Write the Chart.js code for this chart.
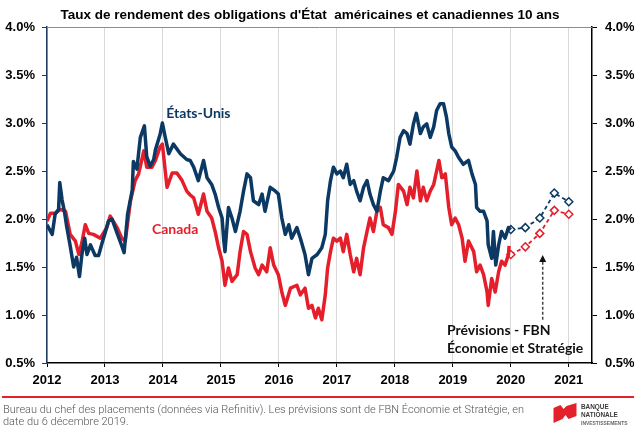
<!DOCTYPE html>
<html><head><meta charset="utf-8">
<script src="https://cdn.jsdelivr.net/npm/chart.js@4.4.1/dist/chart.umd.min.js"></script>
<style>
html,body{margin:0;padding:0;background:#fff;}
#wrap{position:relative;width:634px;height:431px;overflow:hidden;background:#fff;}
#c{position:absolute;left:0;top:0;}
#rule{position:absolute;left:2px;top:396px;width:632px;height:2px;background:#e3212b;}
#foot{position:absolute;left:3px;top:404px;font-family:Roboto,"Liberation Sans",sans-serif;font-weight:300;font-size:11px;color:#555;line-height:11.5px;white-space:nowrap;}
#logo{position:absolute;left:553px;top:402px;width:81px;height:28px;}
#logo .t{position:absolute;left:28px;font-family:"Liberation Sans",Arial,sans-serif;font-weight:bold;color:#3a3a3a;white-space:nowrap;transform-origin:0 0;}
</style></head>
<body>
<div id="wrap">
<canvas id="c" width="634" height="398"></canvas>
<div id="rule"></div>
<div id="foot"></div>
<div id="logo">
<svg width="25" height="22" viewBox="0 0 24 22" style="position:absolute;left:0;top:1px">
<path d="M0 5 L7 2 L10 6 L13 3 L23 0 L23 13 L15 16 L12 12 L9 16 L0 20 Z" fill="#e3212b"/>
</svg>
<div class="t" id="lg1" style="top:0px;font-size:8px;transform:scaleX(0.8)"></div>
<div class="t" id="lg2" style="top:8px;font-size:8px;transform:scaleX(0.8)"></div>
<div class="t" id="lg3" style="top:18px;font-size:5.5px;color:#666;transform:scaleX(0.9)"></div>
</div>
</div>
<script>
// ---------- Data ----------
const TITLE = "Taux de rendement des obligations d'État  américaines et canadiennes 10 ans";
const US_NAME = "États-Unis";
const CA_NAME = "Canada";
const NOTE_LINES = ["Prévisions - FBN", "Économie et Stratégie"];
const FOOT_LINES = ["Bureau du chef des placements (données via Refinitiv). Les prévisions sont de FBN Économie et Stratégie, en", "date du 6 décembre 2019."];
const LOGO_LINES = ["BANQUE", "NATIONALE", "INVESTISSEMENTS"];

const yearTicks = [2012, 2013, 2014, 2015, 2016, 2017, 2018, 2019, 2020, 2021];

const usDates = [2012.00,2012.09,2012.14,2012.20,2012.22,2012.26,2012.30,2012.34,2012.40,2012.46,2012.51,2012.56,2012.60,2012.65,2012.69,2012.75,2012.83,2012.89,2012.95,
2013.00,2013.06,2013.12,2013.21,2013.29,2013.33,2013.39,2013.47,2013.49,2013.55,2013.61,2013.68,2013.72,2013.78,2013.84,2013.87,2013.95,2013.99,
2014.04,2014.10,2014.18,2014.30,2014.41,2014.47,2014.53,2014.61,2014.70,2014.76,2014.84,2014.90,2014.96,
2015.02,2015.05,2015.07,2015.13,2015.19,2015.25,2015.33,2015.39,2015.45,2015.51,2015.56,2015.65,2015.71,2015.76,2015.85,2015.94,2015.99,
2016.05,2016.11,2016.17,2016.22,2016.31,2016.37,2016.45,2016.51,2016.57,2016.66,2016.74,2016.80,2016.84,2016.89,2016.94,
2017.00,2017.06,2017.11,2017.17,2017.23,2017.29,2017.34,2017.40,2017.46,2017.52,2017.57,2017.63,2017.69,2017.75,2017.80,2017.89,2017.98,
2018.03,2018.09,2018.15,2018.21,2018.26,2018.32,2018.37,2018.44,2018.49,2018.55,2018.61,2018.67,2018.72,2018.78,2018.84,2018.89,2018.93,2018.98,
2019.04,2019.10,2019.18,2019.27,2019.33,2019.39,2019.41,2019.47,2019.53,2019.59,2019.61,2019.67,2019.70,2019.74,2019.79,2019.84,2019.90,2019.96,2020.00];
const usValues = [1.94,1.84,2.05,2.10,2.38,2.20,2.08,1.92,1.72,1.50,1.60,1.40,1.62,1.80,1.63,1.73,1.62,1.62,1.75,
1.85,1.98,2.00,1.85,1.72,1.65,2.05,2.30,2.60,2.52,2.85,2.97,2.65,2.55,2.62,2.72,2.88,3.00,
2.85,2.68,2.78,2.68,2.62,2.61,2.54,2.40,2.61,2.43,2.36,2.26,2.12,
2.01,1.77,1.66,2.12,2.01,1.87,2.08,2.29,2.47,2.43,2.19,2.15,2.26,2.08,2.33,2.29,2.26,
2.01,1.84,1.94,1.80,1.91,1.80,1.63,1.42,1.59,1.63,1.70,1.84,2.19,2.40,2.54,
2.47,2.50,2.43,2.57,2.36,2.40,2.29,2.19,2.33,2.40,2.26,2.15,2.08,2.29,2.43,2.40,2.50,
2.64,2.85,2.92,2.89,2.78,2.99,3.10,2.89,2.96,2.99,2.85,2.96,3.13,3.20,3.20,3.06,2.89,2.75,
2.71,2.64,2.57,2.61,2.47,2.36,2.12,2.08,2.08,1.98,1.73,1.59,1.87,1.52,1.73,1.87,1.80,1.91,1.89];

const caDates = [2012.00,2012.06,2012.14,2012.23,2012.32,2012.40,2012.49,2012.55,2012.60,2012.66,2012.72,2012.80,2012.92,
2013.03,2013.09,2013.21,2013.29,2013.35,2013.44,2013.52,2013.58,2013.67,2013.72,2013.81,2013.87,2013.95,2013.99,
2014.07,2014.16,2014.24,2014.33,2014.41,2014.47,2014.53,2014.61,2014.70,2014.76,2014.84,2014.90,2014.96,
2015.02,2015.07,2015.13,2015.19,2015.28,2015.33,2015.39,2015.45,2015.51,2015.59,2015.65,2015.71,2015.79,2015.85,2015.91,2015.99,
2016.05,2016.11,2016.20,2016.31,2016.37,2016.45,2016.51,2016.57,2016.63,2016.68,2016.74,2016.80,2016.84,2016.89,2016.94,
2017.00,2017.06,2017.11,2017.17,2017.23,2017.29,2017.34,2017.40,2017.46,2017.52,2017.57,2017.63,2017.69,2017.75,2017.80,2017.89,2017.95,
2018.01,2018.06,2018.15,2018.21,2018.26,2018.32,2018.38,2018.44,2018.49,2018.55,2018.61,2018.67,2018.72,2018.76,2018.81,2018.87,2018.93,2018.98,
2019.04,2019.10,2019.16,2019.21,2019.27,2019.36,2019.41,2019.47,2019.53,2019.59,2019.61,2019.67,2019.73,2019.79,2019.84,2019.90,2019.96,2019.97];
const caValues = [1.98,2.06,2.06,2.10,2.08,1.84,1.77,1.63,1.75,1.94,1.85,1.84,1.80,
1.91,2.03,1.91,1.80,1.77,2.19,2.40,2.47,2.71,2.54,2.54,2.61,2.75,2.78,
2.33,2.48,2.48,2.40,2.29,2.25,2.22,2.05,2.26,2.08,2.01,1.87,1.70,
1.56,1.31,1.49,1.35,1.42,1.66,1.87,1.84,1.66,1.49,1.42,1.52,1.45,1.70,1.52,1.42,
1.24,1.10,1.28,1.31,1.21,1.28,1.07,1.10,0.97,1.07,0.95,1.21,1.49,1.66,1.80,
1.77,1.80,1.66,1.84,1.63,1.45,1.59,1.42,1.70,1.87,2.01,1.87,2.08,2.12,1.94,1.91,1.84,
2.08,2.36,2.29,2.15,2.33,2.22,2.50,2.19,2.33,2.19,2.29,2.36,2.50,2.61,2.43,2.47,2.12,1.94,
2.01,1.94,1.80,1.56,1.77,1.66,1.45,1.52,1.42,1.24,1.10,1.38,1.24,1.45,1.56,1.52,1.63,1.72];

const forecastDates = [2020.00, 2020.25, 2020.50, 2020.75, 2021.00];
const usForecast = [1.89, 1.91, 2.01, 2.27, 2.18];
const caForecast = [1.63, 1.71, 1.85, 2.09, 2.05];

// ---------- Styles ----------
const US_COLOR = '#0b3963';
const CA_COLOR = '#e41f2b';
const pts = (xs, ys) => xs.map((d, i) => ({x: d, y: ys[i]}));

document.getElementById('foot').innerHTML = FOOT_LINES.join('<br>');
document.getElementById('lg1').textContent = LOGO_LINES[0];
document.getElementById('lg2').textContent = LOGO_LINES[1];
document.getElementById('lg3').textContent = LOGO_LINES[2];

const tickFont = {family: '"Liberation Sans", Arial, sans-serif', weight: 'bold', size: 13};

const overlay = {
  id: 'overlay',
  afterDraw(chart) {
    const {ctx, chartArea: a, scales: {x, y}} = chart;
    ctx.save();
    // top frame line
    ctx.strokeStyle = '#8c8c8c'; ctx.lineWidth = 1;
    ctx.beginPath(); ctx.moveTo(a.left, Math.round(a.top) + 0.5); ctx.lineTo(a.right, Math.round(a.top) + 0.5); ctx.stroke();
    // title
    ctx.font = 'bold 13px "Liberation Sans", Arial, sans-serif';
    ctx.fillStyle = '#000'; ctx.textBaseline = 'middle'; ctx.textAlign = 'center';
    const tw = ctx.measureText(TITLE).width;
    ctx.save(); ctx.translate(310, 15); ctx.scale(499 / tw, 1); ctx.fillText(TITLE, 0, 0); ctx.restore();
    // series labels
    ctx.font = 'bold 14px Lato, "Open Sans", sans-serif';
    ctx.fillStyle = US_COLOR;
    ctx.fillText(US_NAME, x.getPixelForValue(2014.61), y.getPixelForValue(3.10));
    ctx.fillStyle = CA_COLOR;
    ctx.fillText(CA_NAME, x.getPixelForValue(2014.21), y.getPixelForValue(1.89));
    // forecast note
    ctx.font = 'bold 14px Lato, "Open Sans", sans-serif';
    ctx.fillStyle = '#111'; ctx.textAlign = 'left';
    ctx.fillText(NOTE_LINES[0], 447, 330);
    ctx.fillText(NOTE_LINES[1], 447, 348);
    // dashed arrow
    const ax = x.getPixelForValue(2020.55);
    const yTip = y.getPixelForValue(1.625);
    const yBot = y.getPixelForValue(0.95);
    ctx.strokeStyle = '#444'; ctx.lineWidth = 1.5; ctx.setLineDash([3, 2]);
    ctx.beginPath(); ctx.moveTo(ax, yBot); ctx.lineTo(ax, yTip + 6); ctx.stroke();
    ctx.setLineDash([]);
    ctx.fillStyle = '#111';
    ctx.beginPath(); ctx.moveTo(ax, yTip); ctx.lineTo(ax - 3.5, yTip + 7); ctx.lineTo(ax + 3.5, yTip + 7); ctx.closePath(); ctx.fill();
    ctx.restore();
  }
};

new Chart(document.getElementById('c'), {
  type: 'line',
  data: {
    datasets: [
      {label: US_NAME, data: pts(usDates, usValues), borderColor: US_COLOR, borderWidth: 3.5, pointRadius: 0, tension: 0, borderJoinStyle: 'round'},
      {label: CA_NAME, data: pts(caDates, caValues), borderColor: CA_COLOR, borderWidth: 3.5, pointRadius: 0, tension: 0, borderJoinStyle: 'round'},
      {label: US_NAME + ' prévisions', data: pts(forecastDates, usForecast), borderColor: US_COLOR, borderWidth: 1.8, borderDash: [4, 3],
        pointStyle: 'rectRot', pointRadius: 4, pointBorderWidth: 1.5, pointBorderColor: US_COLOR, pointBackgroundColor: '#fff', tension: 0},
      {label: CA_NAME + ' prévisions', data: pts(forecastDates, caForecast), borderColor: CA_COLOR, borderWidth: 1.8, borderDash: [4, 3],
        pointStyle: 'rectRot', pointRadius: 4, pointBorderWidth: 1.5, pointBorderColor: CA_COLOR, pointBackgroundColor: '#fff', tension: 0}
    ]
  },
  options: {
    responsive: false, animation: false, devicePixelRatio: 1,
    layout: {padding: {top: 27, left: 0, right: 0, bottom: 0}},
    plugins: {legend: {display: false}, tooltip: {enabled: false}, title: {display: false}},
    scales: {
      x: {
        type: 'linear', min: 2012, max: 2021.4,
        afterBuildTicks: s => { s.ticks = yearTicks.map(v => ({value: v})); },
        ticks: {autoSkip: false, maxRotation: 0, color: '#000', font: tickFont, padding: 6, callback: v => String(v)},
        grid: {color: '#d9d9d9', lineWidth: 1, tickLength: 4, tickColor: '#000'},
        border: {color: '#000', width: 1.5},
        afterFit: s => { s.height = 35; }
      },
      y: {
        position: 'left', min: 0.5, max: 4.0,
        ticks: {stepSize: 0.5, color: '#000', font: tickFont, padding: 7, callback: v => v.toFixed(1) + '%'},
        grid: {drawOnChartArea: false, tickLength: 5, tickColor: '#1f3b63'},
        border: {color: '#1f3b63', width: 1.5},
        afterFit: s => { s.width = 47; }
      },
      y2: {
        position: 'right', min: 0.5, max: 4.0,
        ticks: {stepSize: 0.5, color: '#000', font: tickFont, padding: 8, callback: v => v.toFixed(1) + '%'},
        grid: {drawOnChartArea: false, tickLength: 5, tickColor: '#000'},
        border: {color: '#000', width: 1.5},
        afterFit: s => { s.width = 42; }
      }
    }
  },
  plugins: [overlay]
});
</script>
</body></html>
